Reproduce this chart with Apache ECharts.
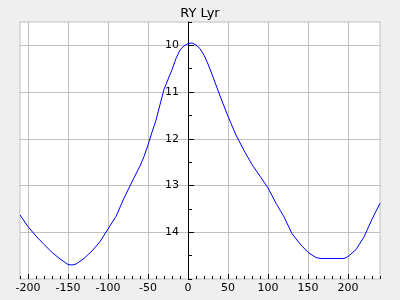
<!DOCTYPE html>
<html>
<head>
<meta charset="utf-8">
<script src="https://cdn.jsdelivr.net/npm/echarts@6/dist/echarts.min.js"></script>
<style>
html,body{margin:0;padding:0;background:#efefef;}
#c{width:400px;height:300px;}
</style>
</head>
<body>
<div id="c"></div>
<script>
const phase = [-210,-200,-190,-180,-170,-160,-150,-145,-140,-130,-120,-110,-100,-90,-80,-70,-60,-55,-50,-45,-40,-35,-30,-20,-15,-10,-5,0,5,10,15,20,25,30,40,50,60,70,80,90,100,110,120,130,140,150,160,165,195,200,210,220,230,240];
const mag   = [13.63,13.88,14.08,14.26,14.43,14.57,14.69,14.70,14.68,14.56,14.40,14.20,13.93,13.66,13.27,12.92,12.58,12.38,12.13,11.86,11.60,11.27,10.94,10.52,10.28,10.10,10.01,9.96,9.95,9.99,10.07,10.21,10.40,10.62,11.08,11.52,11.92,12.25,12.55,12.80,13.05,13.38,13.67,14.03,14.25,14.43,14.54,14.56,14.56,14.52,14.37,14.10,13.72,13.38];
const xMajor = [-200,-150,-100,-50,0,50,100,150,200];
const yMajor = [10,11,12,13,14];
const title = 'RY Lyr';

const font = 'DejaVu Sans';
const W = 400, gridL = 20, gridR = 20, xMin = -210, xMax = 240;
const zeroOffset = (0 - xMin) / (xMax - xMin) * (W - gridL - gridR);
const chart = echarts.init(document.getElementById('c'), null, {renderer:'canvas'});
const gridLine = {show:true, lineStyle:{color:'#c0c0c0', width:1}};
chart.setOption({
  animation:false,
  backgroundColor:'#efefef',
  title:{text:title, left:'center', top:2, textStyle:{fontFamily:font, fontSize:13, fontWeight:'normal', color:'#000'}},
  grid:{left:gridL, right:gridR, top:22, bottom:21, containLabel:false, outerBoundsMode:'none',
        show:true, backgroundColor:'#fff', borderColor:'#c0c0c0', borderWidth:1},
  xAxis:[
    {type:'value', min:xMin, max:xMax, interval:10, position:'bottom',
     axisLine:{show:false, onZero:false}, axisLabel:{show:false}, splitLine:{show:false},
     axisTick:{show:true, inside:true, length:3, lineStyle:{color:'#000'}}},
    {type:'value', min:xMin, max:xMax, position:'bottom',
     axisLine:{show:false, onZero:false},
     axisTick:{show:true, inside:true, length:5, customValues:xMajor, lineStyle:{color:'#000'}},
     axisLabel:{show:true, customValues:xMajor, margin:4, fontFamily:font, fontSize:11, color:'#000'},
     splitLine:gridLine}
  ],
  yAxis:[
    {type:'value', inverse:true, min:9.5, max:15, interval:0.5, position:'left',
     axisLine:{show:true, onZero:true, onZeroAxisIndex:0, lineStyle:{color:'#000', width:1}},
     axisTick:{show:true, inside:true, length:4, lineStyle:{color:'#000'}},
     axisLabel:{show:false}, splitLine:{show:false}},
    {type:'value', inverse:true, min:9.5, max:15, position:'left', offset:-zeroOffset,
     axisLine:{show:false, onZero:false},
     axisTick:{show:true, inside:true, length:6, customValues:yMajor, lineStyle:{color:'#000'}},
     axisLabel:{show:true, customValues:yMajor, margin:9, fontFamily:font, fontSize:11, color:'#000'},
     splitLine:gridLine}
  ],
  series:[{
    type:'line', xAxisIndex:0, yAxisIndex:0, showSymbol:false, symbol:'none',
    lineStyle:{color:'#0000ff', width:1}, data: phase.map((p,i)=>[p, mag[i]])
  }]
});
</script>
</body>
</html>
